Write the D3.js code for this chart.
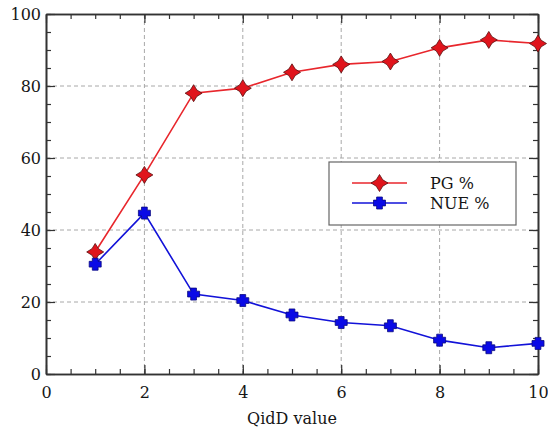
<!DOCTYPE html>
<html>
<head>
<meta charset="utf-8">
<script src="https://cdn.jsdelivr.net/npm/d3@7"></script>
<style>
  html, body { margin: 0; padding: 0; background: #fff; }
</style>
</head>
<body>
<svg id="chart" width="548" height="431"></svg>
<script>
// QidD values and measured percentages
const qidd = [1, 2, 3, 4, 5, 6, 7, 8, 9, 10];
const pgPct = [33.9, 55.3, 78.0, 79.4, 83.8, 86.0, 86.8, 90.6, 92.8, 91.8];
const nuePct = [30.5, 44.7, 22.2, 20.4, 16.4, 14.3, 13.4, 9.4, 7.3, 8.5];
const xTicks = [0, 2, 4, 6, 8, 10];
const yTicks = [0, 20, 40, 60, 80, 100];
const seriesNames = ["PG %", "NUE %"];
const xLabel = "QidD value";

const FONT = "'DejaVu Serif', serif";
const FSIZE = "16px";
const INK = "#161616";

const svg = d3.select("#chart");
const m = { left: 46, right: 538, top: 14, bottom: 374 };

const x = d3.scaleLinear().domain([0, 10]).range([m.left, m.right]);
const y = d3.scaleLinear().domain([0, 100]).range([m.bottom, m.top]);

// dashed grid at major ticks
const grid = svg.append("g").attr("stroke", "#a8a8a8").attr("stroke-dasharray", "4,3").attr("stroke-width", 1);
xTicks.slice(1, -1).forEach(t => grid.append("line")
  .attr("x1", x(t)).attr("x2", x(t)).attr("y1", m.top).attr("y2", m.bottom));
yTicks.slice(1, -1).forEach(t => grid.append("line")
  .attr("x1", m.left).attr("x2", m.right).attr("y1", y(t)).attr("y2", y(t)));

// axes: ticks point inward on all four sides
const minorX = d3.range(0, 10.01, 0.5);
const minorY = d3.range(0, 100.1, 5);

function addAxis(gen, tr, labels) {
  const g = svg.append("g").attr("transform", tr).call(gen);
  g.select(".domain").attr("stroke", "#333").attr("stroke-width", 1.6);
  g.selectAll(".tick line").attr("stroke", "#333").attr("stroke-width", 1.2);
  if (!labels) g.selectAll(".tick text").remove();
  else g.selectAll(".tick text")
    .style("font-family", FONT).style("font-size", FSIZE).style("fill", INK);
  return g;
}

// minor ticks
addAxis(d3.axisBottom(x).tickValues(minorX).tickSize(-5).tickSizeOuter(0).tickFormat(""), `translate(0,${m.bottom})`, false);
addAxis(d3.axisTop(x).tickValues(minorX).tickSize(-5).tickSizeOuter(0).tickFormat(""), `translate(0,${m.top})`, false);
addAxis(d3.axisLeft(y).tickValues(minorY).tickSize(-5).tickSizeOuter(0).tickFormat(""), `translate(${m.left},0)`, false);
addAxis(d3.axisRight(y).tickValues(minorY).tickSize(-5).tickSizeOuter(0).tickFormat(""), `translate(${m.right},0)`, false);

// major ticks with labels
addAxis(d3.axisBottom(x).tickValues(xTicks).tickSize(-9).tickSizeOuter(0).tickPadding(13), `translate(0,${m.bottom})`, true);
addAxis(d3.axisTop(x).tickValues(xTicks).tickSize(-9).tickSizeOuter(0), `translate(0,${m.top})`, false);
addAxis(d3.axisLeft(y).tickValues(yTicks).tickSize(-9).tickSizeOuter(0).tickPadding(5), `translate(${m.left},0)`, true);
addAxis(d3.axisRight(y).tickValues(yTicks).tickSize(-9).tickSizeOuter(0), `translate(${m.right},0)`, false);

// axis title
svg.append("text").attr("x", 292).attr("y", 424).attr("text-anchor", "middle")
  .style("font-family", FONT).style("font-size", FSIZE).style("fill", INK).text(xLabel);

// marker shapes
const starPath = (s) => {
  const r = s, k = s * 0.38;
  return `M0,${-r} L${k},${-k} L${r},0 L${k},${k} L0,${r} L${-k},${k} L${-r},0 L${-k},${-k} Z`;
};
const plusPath = (s) => {
  const a = s, b = s * 0.48;
  return `M${-b},${-a} L${b},${-a} L${b},${-b} L${a},${-b} L${a},${b} L${b},${b} L${b},${a} L${-b},${a} L${-b},${b} L${-a},${b} L${-a},${-b} L${-b},${-b} Z`;
};

const series = [
  { name: seriesNames[0], values: pgPct, line: "#e8262c", fill: "#e0141c", stroke: "#5a1010", shape: starPath, size: 8.5 },
  { name: seriesNames[1], values: nuePct, line: "#1212d8", fill: "#0a0ae6", stroke: "#0a0a80", shape: plusPath, size: 6 }
];

const lineGen = d3.line().x((d, i) => x(qidd[i])).y(d => y(d));

const plot = svg.append("g");
series.forEach(s => {
  plot.append("path").datum(s.values).attr("d", lineGen)
    .attr("fill", "none").attr("stroke", s.line).attr("stroke-width", 1.6);
});
series.forEach(s => {
  plot.selectAll(null).data(s.values).join("path")
    .attr("transform", (d, i) => `translate(${x(qidd[i])},${y(d)})`)
    .attr("d", s.shape(s.size))
    .attr("fill", s.fill).attr("stroke", s.stroke).attr("stroke-width", 0.8);
});

// legend
const lg = svg.append("g");
lg.append("rect").attr("x", 329).attr("y", 162).attr("width", 187).attr("height", 63)
  .attr("fill", "#fff").attr("stroke", "#666").attr("stroke-width", 1.2);
series.forEach((s, i) => {
  const ly = 183 + i * 20;
  lg.append("line").attr("x1", 352).attr("x2", 407).attr("y1", ly).attr("y2", ly)
    .attr("stroke", s.line).attr("stroke-width", 1.6);
  lg.append("path").attr("transform", `translate(379.5,${ly})`).attr("d", s.shape(s.size))
    .attr("fill", s.fill).attr("stroke", s.stroke).attr("stroke-width", 0.8);
  lg.append("text").attr("x", 430).attr("y", ly + 5.5)
    .style("font-family", FONT).style("font-size", FSIZE).style("fill", INK).text(s.name);
});
</script>
</body>
</html>
